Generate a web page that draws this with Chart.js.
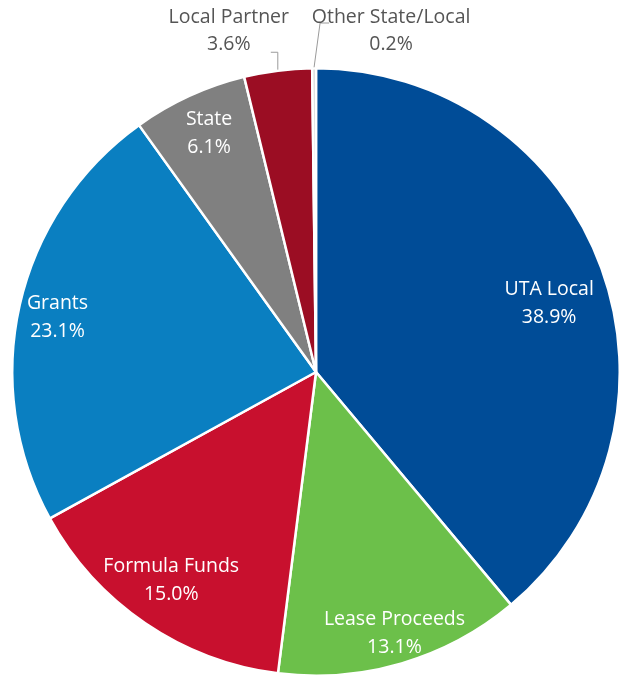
<!DOCTYPE html>
<html>
<head>
<meta charset="utf-8">
<script src="https://cdn.jsdelivr.net/npm/chart.js@4/dist/chart.umd.min.js"></script>
<style>
  html, body { margin: 0; padding: 0; background: #fff; }
  #wrap { position: relative; width: 621px; height: 681px; }
</style>
</head>
<body>
<div id="wrap"><canvas id="pie"></canvas></div>
<script>
// funding sources pie — slices start at 12 o'clock, clockwise
const categories = ['UTA Local', 'Lease Proceeds', 'Formula Funds', 'Grants', 'State', 'Local Partner', 'Other State/Local'];
const shares = [38.9, 13.1, 15.0, 23.1, 6.1, 3.6, 0.2];
const shareLabels = ['38.9%', '13.1%', '15.0%', '23.1%', '6.1%', '3.6%', '0.2%'];
const colors = ['#004c97', '#6cc04a', '#c8102e', '#0a7fc1', '#808080', '#9b0d23', '#d6d6d6'];

// label placement: inside slices sit at a fraction of the radius (plus a small
// angle nudge in degrees), the two tiny slices get an outside label with a leader
const insideRadius = [0.80, 0.90, 0.835, 0.87, 0.86, null, null];
const angleNudge = [3.6, -0.3, 0.6, -0.8, 0.5, 0, 0];
const FONT = '19.5px "Open Sans", sans-serif';
const LINE_GAP = 28;

const sliceLabels = {
  id: 'sliceLabels',
  afterDatasetsDraw(chart) {
    const ctx = chart.ctx;
    const arcs = chart.getDatasetMeta(0).data;
    ctx.save();
    ctx.font = FONT;
    ctx.textAlign = 'center';
    ctx.textBaseline = 'middle';
    arcs.forEach((arc, i) => {
      const mid = (arc.startAngle + arc.endAngle) / 2 + angleNudge[i] * Math.PI / 180;
      const f = insideRadius[i];
      if (f != null) {
        const x = arc.x + Math.cos(mid) * arc.outerRadius * f;
        const y = arc.y + Math.sin(mid) * arc.outerRadius * f;
        ctx.fillStyle = '#ffffff';
        ctx.fillText(categories[i], x, y - LINE_GAP / 2);
        ctx.fillText(shareLabels[i], x, y + LINE_GAP / 2);
        return;
      }
      // outside label with leader
      const ex = arc.x + Math.cos(mid) * (arc.outerRadius + 1);
      const ey = arc.y + Math.sin(mid) * (arc.outerRadius + 1);
      const elbowY = arc.y - arc.outerRadius - 16;
      ctx.strokeStyle = '#9a9a9a';
      ctx.lineWidth = 1;
      ctx.fillStyle = '#555555';
      ctx.beginPath();
      if (i === 5) {
        ctx.moveTo(ex, ey);
        ctx.lineTo(ex, elbowY);
        ctx.lineTo(ex - 7, elbowY);
        ctx.stroke();
        ctx.fillText(categories[i], ex - 49, 17);
        ctx.fillText(shareLabels[i], ex - 49, 44);
      } else {
        const topY = 23;
        ctx.moveTo(ex, ey);
        ctx.lineTo(ex + 6, topY);
        ctx.lineTo(ex + 15, topY);
        ctx.stroke();
        ctx.fillText(categories[i], ex + 77, 17);
        ctx.fillText(shareLabels[i], ex + 77, 44);
      }
    });
    ctx.restore();
  }
};

new Chart(document.getElementById('pie'), {
  type: 'pie',
  data: {
    labels: categories,
    datasets: [{
      data: shares,
      backgroundColor: colors,
      borderColor: '#ffffff',
      borderWidth: 2.5,
    }]
  },
  options: {
    responsive: true,
    maintainAspectRatio: false,
    animation: false,
    layout: { padding: { top: 67, bottom: 4, left: 11, right: 0 } },
    plugins: {
      legend: { display: false },
      tooltip: { enabled: false },
    }
  },
  plugins: [sliceLabels]
});
</script>
</body>
</html>
